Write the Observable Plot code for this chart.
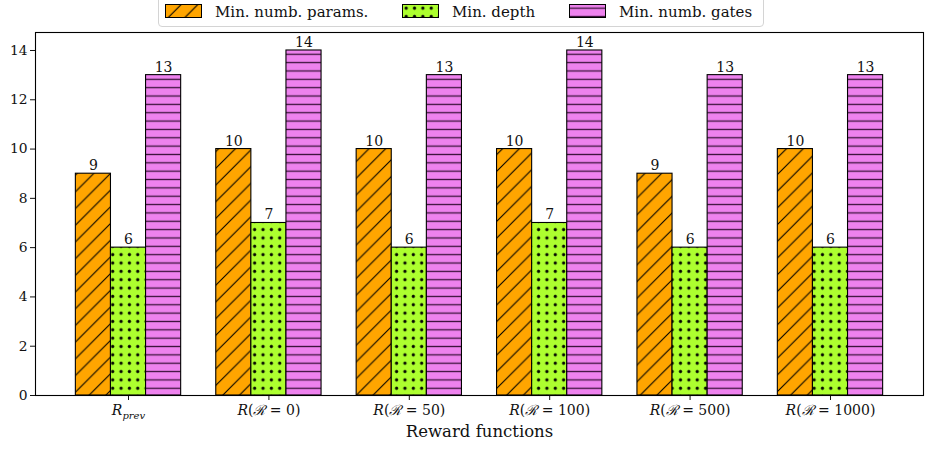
<!DOCTYPE html>
<html>
<head>
<meta charset="utf-8">
<script src="https://cdn.jsdelivr.net/npm/d3@7"></script>
<script src="https://cdn.jsdelivr.net/npm/@observablehq/plot@0.6"></script>
<style>
  html, body { margin: 0; padding: 0; background: #fff; }
  #wrap { position: relative; width: 926px; height: 450px; overflow: hidden; font-family: "DejaVu Serif", serif; }
  #legend { position: absolute; left: 158px; top: -4px; width: 606px; height: 31px; box-sizing: border-box;
    border: 1px solid #d4d4d4; border-radius: 4px; background: rgba(255,255,255,0.8); font-size: 15px; color: #111; }
  #legend svg, #legend span { position: absolute; }
  #legend span { top: 6px; line-height: 18px; white-space: nowrap; }
</style>
</head>
<body>
<svg width="0" height="0" style="position:absolute">
  <defs>
    <pattern id="p0" patternUnits="userSpaceOnUse" width="16.7" height="16.7">
      <rect width="16.7" height="16.7" fill="#FFA500"/>
      <path d="M-4.175,4.175L4.175,-4.175M0,16.7L16.7,0M12.525,20.875L20.875,12.525" stroke="#000" stroke-width="1.1"/>
    </pattern>
    <pattern id="p1" patternUnits="userSpaceOnUse" width="8.35" height="8.35">
      <rect width="8.35" height="8.35" fill="#ADFF2F"/>
      <circle cx="4.17" cy="4.17" r="1.35" fill="#000" stroke="#000" stroke-width="0.6"/>
    </pattern>
    <pattern id="p2" patternUnits="userSpaceOnUse" width="8.35" height="8.35">
      <rect width="8.35" height="8.35" fill="#EE82EE"/>
      <line x1="0" x2="8.35" y1="4.17" y2="4.17" stroke="#3a123a" stroke-width="1.3"/>
    </pattern>
  </defs>
</svg>
<div id="wrap">
  <div id="chart"></div>
  <div id="legend"></div>
</div>
<script>
// ---- data ----
const categories = ["R_prev", "R(ℛ = 0)", "R(ℛ = 50)", "R(ℛ = 100)", "R(ℛ = 500)", "R(ℛ = 1000)"];
const seriesNames = ["Min. numb. params.", "Min. depth", "Min. numb. gates"];
const minParams = [9, 10, 10, 10, 9, 10];
const minDepth  = [6, 7, 6, 7, 6, 6];
const minGates  = [13, 14, 13, 14, 13, 13];
const yTicks = [0, 2, 4, 6, 8, 10, 12, 14];
const xLabel = "Reward functions";

const patterns = ["url(#p0)", "url(#p1)", "url(#p2)"];
const seriesValues = [minParams, minDepth, minGates];
const barWidth = 0.25;

const rows = [];
seriesValues.forEach((vals, k) => vals.forEach((v, i) => rows.push({i, k, value: v})));
const left = d => d.i - 1.5 * barWidth + d.k * barWidth;
const right = d => left(d) + barWidth;
const mid = d => left(d) + barWidth / 2;

const font = "DejaVu Serif";
const plot = Plot.plot({
  width: 926,
  height: 450,
  marginTop: 32,
  marginBottom: 55,
  marginLeft: 35,
  marginRight: 3,
  style: {fontFamily: font, fontSize: "14px", color: "#111", background: "transparent"},
  x: {domain: [-0.6625, 5.6625], axis: null},
  y: {domain: [0, 14.73], axis: null},
  marks: [
    ...seriesValues.map((_, k) => Plot.rectY(rows.filter(d => d.k === k), {
      x1: left, x2: right, y1: 0, y2: "value",
      fill: patterns[k], stroke: "#000", strokeWidth: 1.1
    })),
    Plot.text(rows, {x: mid, y: "value", text: d => String(d.value), dy: -8, fontSize: 14, fill: "#111"}),
    Plot.axisY({ticks: yTicks, tickSize: 5, tickPadding: 3, label: null, fontSize: 13.8, tickFormat: d => String(d)}),
    Plot.axisX({ticks: d3.range(categories.length), tickSize: 5, tickPadding: 5, label: null, fontSize: 14,
      tickFormat: i => categories[i]}),
    Plot.text([xLabel], {frameAnchor: "bottom", dy: 41, text: d => d, fontSize: 16.5, fill: "#111"}),
    Plot.frame({stroke: "#000", strokeWidth: 1.1})
  ]
});

// render math-style tick labels
plot.querySelectorAll('[aria-label="x-axis tick label"] text').forEach(t => {
  const s = t.textContent;
  const NS = "http://www.w3.org/2000/svg";
  t.textContent = "";
  const add = (txt, attrs) => {
    const ts = document.createElementNS(NS, "tspan");
    ts.textContent = txt;
    for (const [a, v] of Object.entries(attrs || {})) ts.setAttribute(a, v);
    t.appendChild(ts);
    return ts;
  };
  if (s === "R_prev") {
    add("R", {"font-style": "italic"});
    add("prev", {"font-style": "italic", "font-size": "10px", "dy": "4"});
  } else {
    const m = s.match(/^R\(ℛ = (\d+)\)$/);
    add("R", {"font-style": "italic"});
    add("(");
    add("ℛ", {"font-style": "italic"});
    add(" = " + m[1] + ")");
  }
});

document.getElementById("chart").appendChild(plot);

// legend (positions relative to legend box)
const legend = document.getElementById("legend");
const swatchX = [6, 243, 410];
const textX = [56, 293, 460];
seriesNames.forEach((name, k) => {
  const sw = document.createElementNS("http://www.w3.org/2000/svg", "svg");
  sw.setAttribute("width", 37); sw.setAttribute("height", 14);
  sw.style.left = swatchX[k] + "px"; sw.style.top = "7px";
  sw.innerHTML = `<rect x="0.5" y="0.5" width="36" height="13" fill="${patterns[k]}" stroke="#000" stroke-width="1"/>`;
  legend.appendChild(sw);
  const sp = document.createElement("span");
  sp.textContent = name;
  sp.style.left = textX[k] + "px";
  legend.appendChild(sp);
});
</script>
</body>
</html>
